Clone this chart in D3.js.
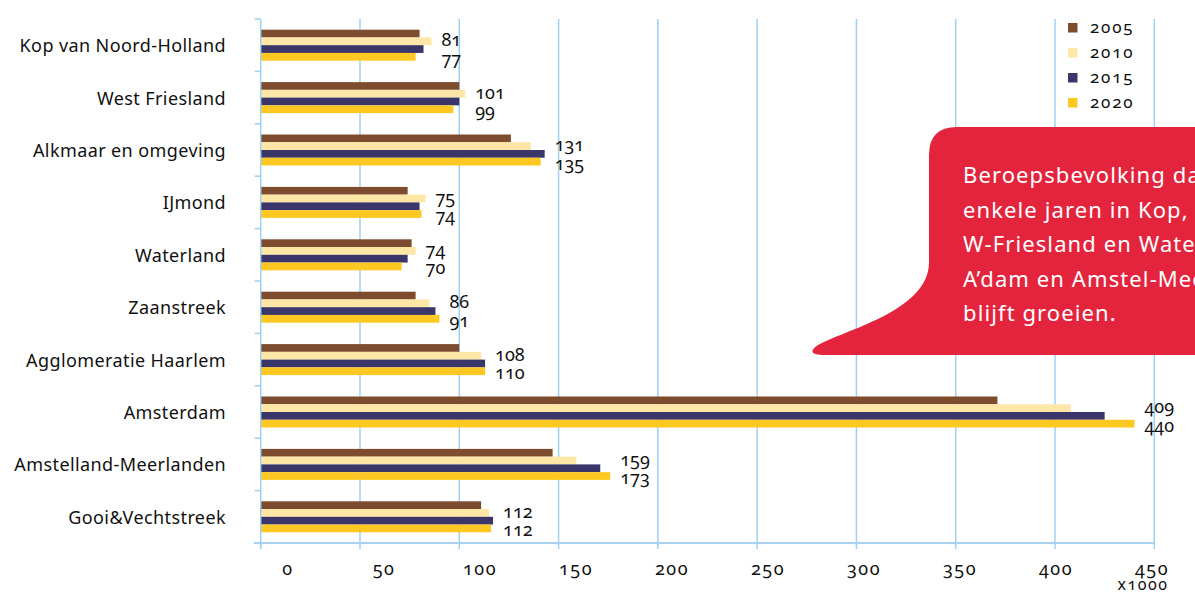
<!DOCTYPE html>
<html>
  <head>
    <meta charset="utf-8">
    <script src="https://d3js.org/d3.v7.min.js"></script>
    <style>
      body { margin: 0; background: #fff; }
      svg { display: block; overflow: hidden; }
      text { font-family: "Noto Sans", "Open Sans", sans-serif; }
      .num { font-variant-numeric: oldstyle-nums; }
    </style>
  </head>
  <body>
    <svg id="chart" width="1195" height="594"></svg>

    <script>
      var regions = ["Kop van Noord-Holland", "West Friesland", "Alkmaar en omgeving", "IJmond",
        "Waterland", "Zaanstreek", "Agglomeratie Haarlem", "Amsterdam",
        "Amstelland-Meerlanden", "Gooi&Vechtstreek"];
      var years = ["2005", "2010", "2015", "2020"];

      // x1000
      var v2005 = [80, 100, 126, 74, 76, 78, 100, 371, 147, 111];
      var v2010 = [86, 103, 136, 83, 78, 85, 111, 408, 159, 115];
      var v2015 = [82, 100, 143, 80, 74, 88, 113, 425, 171, 117];
      var v2020 = [78, 97, 141, 81, 71, 90, 113, 440, 176, 116];

      // the two numbers printed next to each group
      var labelTop = [81, 101, 131, 75, 74, 86, 108, 409, 159, 112];
      var labelBottom = [77, 99, 135, 74, 70, 91, 110, 440, 173, 112];

      var xTicks = [0, 50, 100, 150, 200, 250, 300, 350, 400, 450];

      var noteLines = ["Beroepsbevolking daalt over", "enkele jaren in Kop, IJmond,",
        "W-Friesland en Waterland.", "A\u2019dam en Amstel-Meerlanden", "blijft groeien."];

      var colors = { "2005": "#7d4b2d", "2010": "#fee6a6", "2015": "#3b3669", "2020": "#fec822" };
      var gridColor = "#9fd1f3";

      var series = { "2005": v2005, "2010": v2010, "2015": v2015, "2020": v2020 };
      var rows = regions.map(function(r, i) {
        return { name: r, values: years.map(function(y) { return { year: y, value: series[y][i] }; }),
                 top: labelTop[i], bottom: labelBottom[i] };
      });

      var svg = d3.select("#chart");

      var x = d3.scaleLinear().domain([0, 450]).range([260.7, 1154.3]);
      // tick labels in the original sit on a slightly wider spacing than the grid
      var xLabel = d3.scaleLinear().domain([0, 450]).range([288, 1152]);
      var y = d3.scaleBand().domain(regions).range([19, 543]);
      var y1 = d3.scaleBand().domain(years).range([0, y.bandwidth()]).paddingOuter(1.38);

      // vertical grid
      svg.append("g").selectAll("line")
        .data(xTicks.slice(1))
        .join("line")
        .attr("x1", function(d) { return x(d); })
        .attr("x2", function(d) { return x(d); })
        .attr("y1", 19).attr("y2", 549)
        .attr("stroke", gridColor).attr("stroke-width", 1.5);

      // bars
      var groups = svg.append("g").selectAll("g")
        .data(rows)
        .join("g")
        .attr("transform", function(d) { return "translate(0," + y(d.name) + ")"; });

      groups.selectAll("rect")
        .data(function(d) { return d.values; })
        .join("rect")
        .attr("x", x(0))
        .attr("y", function(d) { return y1(d.year); })
        .attr("width", function(d) { return x(d.value) - x(0); })
        .attr("height", y1.bandwidth())
        .attr("fill", function(d) { return colors[d.year]; });

      // value labels
      groups.each(function(d) {
        var g = d3.select(this);
        var lx = x(d3.max(d.values, function(v) { return v.value; })) + 10;
        g.append("text").attr("class", "num")
          .attr("x", lx).attr("y", y1("2010") + y1.bandwidth() / 2 + 5)
          .attr("font-size", 18).attr("fill", "#111").text(d.top);
        g.append("text").attr("class", "num")
          .attr("x", lx).attr("y", y1("2020") + y1.bandwidth() / 2 + 8)
          .attr("font-size", 18).attr("fill", "#111").text(d.bottom);
      });

      // left axis
      svg.append("line")
        .attr("x1", x(0)).attr("x2", x(0)).attr("y1", 19).attr("y2", 549)
        .attr("stroke", gridColor).attr("stroke-width", 1.5);
      var bounds = regions.map(function(r) { return y(r); }).concat([543]);
      svg.append("g").selectAll("line")
        .data(bounds)
        .join("line")
        .attr("x1", x(0) - 6).attr("x2", x(0))
        .attr("y1", function(d) { return d; }).attr("y2", function(d) { return d; })
        .attr("stroke", gridColor).attr("stroke-width", 1.5);

      svg.append("g").selectAll("text")
        .data(regions)
        .join("text")
        .attr("x", 226)
        .attr("y", function(d) { return y(d) + y.bandwidth() / 2 + 7; })
        .attr("text-anchor", "end")
        .attr("font-size", 18)
        .attr("letter-spacing", 0.4)
        .attr("fill", "#111")
        .text(function(d) { return d; });

      // bottom axis
      svg.append("line")
        .attr("x1", x(0) - 7).attr("x2", x(450)).attr("y1", 543).attr("y2", 543)
        .attr("stroke", "#a8d0ef").attr("stroke-width", 2);
      svg.append("line")
        .attr("x1", x(0)).attr("x2", x(0)).attr("y1", 543).attr("y2", 549)
        .attr("stroke", gridColor).attr("stroke-width", 1.5);

      svg.append("g").selectAll("text")
        .data(xTicks)
        .join("text")
        .attr("class", "num")
        .attr("x", function(d) { return xLabel(d); })
        .attr("y", 575)
        .attr("text-anchor", "middle")
        .attr("font-size", 18)
        .attr("letter-spacing", 1.5)
        .attr("fill", "#111")
        .text(function(d) { return d; });

      svg.append("text").attr("class", "num")
        .attr("x", 1143).attr("y", 590)
        .attr("text-anchor", "middle")
        .attr("font-size", 16).attr("letter-spacing", 1.5)
        .attr("fill", "#111")
        .text("x1000");

      // legend
      var legend = svg.append("g").selectAll("g")
        .data(years)
        .join("g")
        .attr("transform", function(d, i) { return "translate(1068," + (23 + i * 25) + ")"; });
      legend.append("rect")
        .attr("width", 9.5).attr("height", 9.5)
        .attr("fill", function(d) { return colors[d]; });
      legend.append("text").attr("class", "num")
        .attr("x", 22).attr("y", 10)
        .attr("font-size", 17).attr("letter-spacing", 1.8)
        .attr("fill", "#111")
        .text(function(d) { return d; });

      // callout balloon
      svg.append("path")
        .attr("d", "M957,127 H1200 V355 H822 Q805,354 818,345 C850,328 929,310 929,262 V155 Q929,127 957,127 Z")
        .attr("fill", "#e4243d");

      svg.append("g").selectAll("text")
        .data(noteLines)
        .join("text")
        .attr("x", 963)
        .attr("y", function(d, i) { return 183 + i * 34.5; })
        .attr("font-size", 22)
        .attr("letter-spacing", 1.1)
        .attr("fill", "#fff")
        .text(function(d) { return d; });
    </script>
  </body>
</html>
